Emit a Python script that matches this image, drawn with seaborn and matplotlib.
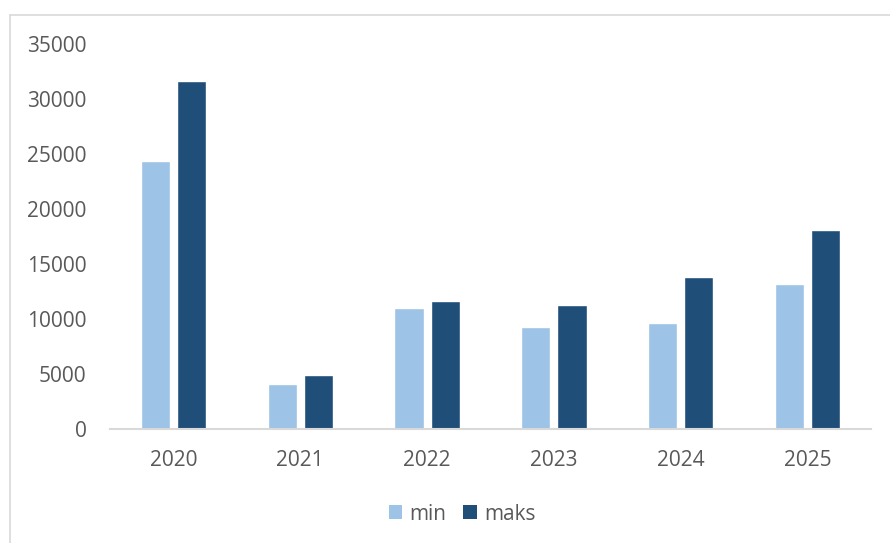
import matplotlib
matplotlib.use("Agg")
import matplotlib.pyplot as plt
import seaborn as sns
import pandas as pd
from matplotlib.lines import Line2D
from matplotlib.patches import Patch

years = ["2020", "2021", "2022", "2023", "2024", "2025"]
min_values = [24400, 4060, 11030, 9240, 9600, 13180]
maks_values = [31600, 4880, 11600, 11300, 13820, 18060]
series_names = ["min", "maks"]
colors = ["#9DC3E6", "#1F4E79"]

df = pd.DataFrame({
    "year": years * 2,
    "value": min_values + maks_values,
    "series": [series_names[0]] * len(years) + [series_names[1]] * len(years),
})

sns.set_theme(style="white")
plt.rcParams["font.family"] = ["Open Sans", "DejaVu Sans"]

fig = plt.figure(figsize=(8.9, 5.43), dpi=100)
ax = fig.add_axes([110 / 890, 1 - 429 / 543, 761 / 890, 385 / 543])

sns.barplot(data=df, x="year", y="value", hue="series", order=years,
            hue_order=series_names, palette=colors, width=0.568, gap=0.19,
            ax=ax, legend=False, saturation=1)

ax.set_xlim(-0.5, len(years) - 0.5)
ax.set_ylim(0, 35000)
ax.set_yticks(range(0, 35001, 5000))
ax.set_xlabel("")
ax.set_ylabel("")

for s in ["top", "right", "left"]:
    ax.spines[s].set_visible(False)
ax.spines["bottom"].set_color("#D9D9D9")
ax.spines["bottom"].set_linewidth(1.5)

ax.tick_params(axis="both", length=0, labelsize=15, labelcolor="#595959")
ax.tick_params(axis="y", pad=17)
ax.tick_params(axis="x", pad=15)

# chart frame (top and left edges)
fig.add_artist(Line2D([10 / 890, 10 / 890], [0, 1 - 15 / 543],
                      transform=fig.transFigure, color="#D9D9D9", lw=1.2))
fig.add_artist(Line2D([10 / 890, 1], [1 - 15 / 543, 1 - 15 / 543],
                      transform=fig.transFigure, color="#D9D9D9", lw=1.2))

handles = [Patch(facecolor=c, edgecolor="none", label=n)
           for c, n in zip(colors, series_names)]
fig.legend(handles=handles, loc="center", bbox_to_anchor=(462 / 890, 1 - 514 / 543),
           ncol=2, frameon=False, fontsize=15, labelcolor="#595959",
           handlelength=0.65, handleheight=0.65, handletextpad=0.35,
           columnspacing=0.8)

fig.savefig("out.png", dpi=100, facecolor="white")
